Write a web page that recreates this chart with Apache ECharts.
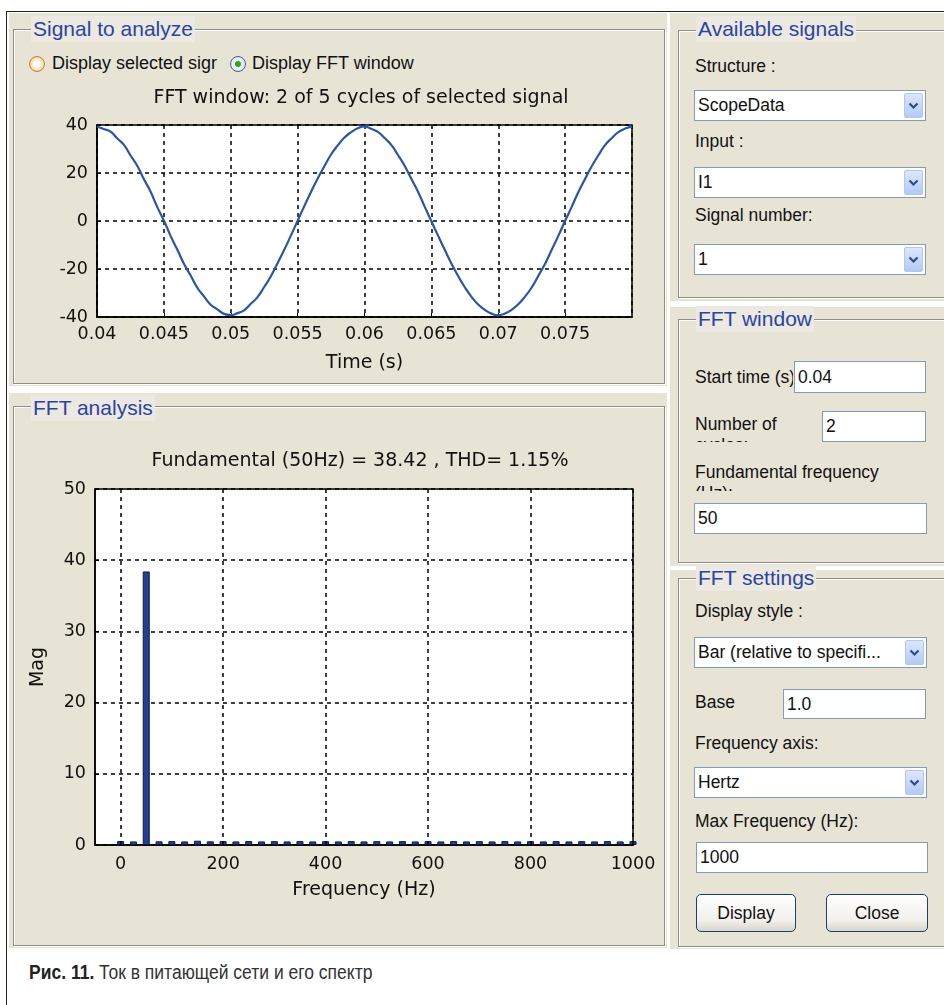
<!DOCTYPE html>
<html><head><meta charset="utf-8">
<script src="https://cdn.jsdelivr.net/npm/echarts@6/dist/echarts.min.js"></script>
<style>
body{margin:0;width:944px;height:1005px;overflow:hidden;background:#fff;position:relative;font-family:"Liberation Sans",Arial,sans-serif;}
.bg{position:absolute;background:#E7E4D6;}
.frame{position:absolute;border:1px solid #8E8D88;box-shadow:1px 1px 0 #fff, inset 1px 1px 0 #fff;}
.ptitle{position:absolute;color:#2C45A0;font-size:21px;background:#EBE9E1;padding:0 2px;line-height:26px;white-space:nowrap;}
.lbl{position:absolute;font-size:17.5px;color:#111;white-space:nowrap;line-height:21px;}
.wrap{position:absolute;font-size:17.5px;color:#111;line-height:21px;overflow:hidden;}
.combo{position:absolute;background:#fff;border:1px solid #7F9DB9;box-sizing:border-box;font-size:17.5px;color:#111;padding-left:3px;white-space:nowrap;}
.arrow{position:absolute;right:2px;top:2px;bottom:2px;width:19px;background:linear-gradient(#DCE7FD,#B4C9F6);border:1px solid #B2C6EE;border-radius:2px;box-sizing:border-box;display:flex;align-items:center;justify-content:center;}
.edit{position:absolute;background:#fff;border:1px solid #7F9DB9;box-sizing:border-box;font-size:17.5px;color:#111;padding-left:3px;white-space:nowrap;}
.btn{position:absolute;border:1px solid #1E3F6E;border-radius:5px;box-sizing:border-box;background:linear-gradient(#FFFFFF,#F1F0EB 70%,#D9D5CA);font-size:17.5px;color:#111;text-align:center;}
#chart{position:absolute;left:0;top:0;width:944px;height:1005px;}
</style>
</head><body>
<div style="position:absolute;left:6px;top:11px;width:960px;height:1010px;border-top:1px solid #222;border-left:1px solid #222;"></div>

<div class="bg" style="left:9px;top:13px;width:658px;height:373px;"></div>
<div class="frame" style="left:13px;top:29px;width:650px;height:353px;"></div>
<div class="ptitle" style="left:31px;top:16px;">Signal to analyze</div>

<div class="bg" style="left:9px;top:393px;width:658px;height:555px;"></div>
<div class="frame" style="left:13px;top:406px;width:650px;height:538px;"></div>
<div class="ptitle" style="left:31px;top:395px;">FFT analysis</div>

<div class="bg" style="left:670px;top:13px;width:274px;height:288px;"></div>
<div class="frame" style="left:678px;top:30px;width:300px;height:266px;"></div>
<div class="ptitle" style="left:696px;top:16px;">Available signals</div>

<div class="bg" style="left:670px;top:307px;width:274px;height:259px;"></div>
<div class="frame" style="left:678px;top:319px;width:300px;height:242px;"></div>
<div class="ptitle" style="left:696px;top:306px;">FFT window</div>

<div class="bg" style="left:670px;top:570px;width:274px;height:379px;"></div>
<div class="frame" style="left:678px;top:578px;width:300px;height:367px;"></div>
<div class="ptitle" style="left:696px;top:565px;">FFT settings</div>

<!-- radio buttons -->
<div style="position:absolute;left:29px;top:56px;width:16px;height:16px;border-radius:50%;box-sizing:border-box;border:1px solid #B98636;background:radial-gradient(circle,#FFFFFF 25%,#F9DFA8 60%,#E9B45A 100%);"></div>
<div class="lbl" style="left:52px;top:53px;font-size:18px;">Display selected sigr</div>
<div style="position:absolute;left:230px;top:56px;width:16px;height:16px;border-radius:50%;box-sizing:border-box;border:1px solid #2F6A9E;background:radial-gradient(circle,#F4F4F0 40%,#D6D8D0 100%);display:flex;align-items:center;justify-content:center;"><div style="width:6px;height:6px;border-radius:50%;background:#2FA42F;"></div></div>
<div class="lbl" style="left:252px;top:53px;font-size:18px;">Display FFT window</div>

<!-- Available signals -->
<div class="lbl" style="left:695px;top:56px;">Structure :</div>
<div class="combo" style="left:694px;top:90px;width:232px;height:31px;line-height:29px;">ScopeData<div class="arrow"><svg width="11" height="8"><polyline points="1.5,1.5 5.5,5.5 9.5,1.5" fill="none" stroke="#2E4B8A" stroke-width="2.2"/></svg></div></div>
<div class="lbl" style="left:695px;top:131px;">Input :</div>
<div class="combo" style="left:694px;top:167px;width:232px;height:31px;line-height:29px;">I1<div class="arrow"><svg width="11" height="8"><polyline points="1.5,1.5 5.5,5.5 9.5,1.5" fill="none" stroke="#2E4B8A" stroke-width="2.2"/></svg></div></div>
<div class="lbl" style="left:695px;top:205px;">Signal number:</div>
<div class="combo" style="left:694px;top:244px;width:232px;height:31px;line-height:29px;">1<div class="arrow"><svg width="11" height="8"><polyline points="1.5,1.5 5.5,5.5 9.5,1.5" fill="none" stroke="#2E4B8A" stroke-width="2.2"/></svg></div></div>

<!-- FFT window -->
<div class="wrap" style="left:695px;top:367px;width:98px;height:21px;white-space:nowrap;">Start time (s)</div>
<div class="edit" style="left:794px;top:361px;width:132px;height:32px;line-height:30px;">0.04</div>
<div class="wrap" style="left:695px;top:414px;width:100px;height:28px;">Number of cycles:</div>
<div class="edit" style="left:822px;top:411px;width:104px;height:31px;line-height:29px;">2</div>
<div class="wrap" style="left:695px;top:462px;width:200px;height:29px;">Fundamental frequency (Hz):</div>
<div class="edit" style="left:694px;top:503px;width:233px;height:31px;line-height:29px;">50</div>

<!-- FFT settings -->
<div class="lbl" style="left:695px;top:601px;">Display style :</div>
<div class="combo" style="left:694px;top:637px;width:233px;height:31px;line-height:29px;">Bar (relative to specifi...<div class="arrow"><svg width="11" height="8"><polyline points="1.5,1.5 5.5,5.5 9.5,1.5" fill="none" stroke="#2E4B8A" stroke-width="2.2"/></svg></div></div>
<div class="lbl" style="left:695px;top:692px;">Base</div>
<div class="edit" style="left:783px;top:689px;width:143px;height:30px;line-height:28px;">1.0</div>
<div class="lbl" style="left:695px;top:733px;">Frequency axis:</div>
<div class="combo" style="left:694px;top:767px;width:233px;height:31px;line-height:29px;">Hertz<div class="arrow"><svg width="11" height="8"><polyline points="1.5,1.5 5.5,5.5 9.5,1.5" fill="none" stroke="#2E4B8A" stroke-width="2.2"/></svg></div></div>
<div class="lbl" style="left:695px;top:811px;">Max Frequency (Hz):</div>
<div class="edit" style="left:696px;top:842px;width:232px;height:31px;line-height:29px;">1000</div>
<div class="btn" style="left:696px;top:894px;width:100px;height:38px;line-height:36px;">Display</div>
<div class="btn" style="left:826px;top:894px;width:102px;height:38px;line-height:36px;">Close</div>

<!-- caption -->
<div style="position:absolute;left:29px;top:960px;font-family:'Liberation Sans',Arial,sans-serif;font-size:20px;line-height:24px;color:#333;white-space:nowrap;transform:scaleX(0.875);transform-origin:0 50%;"><b style="color:#222;">Рис. 11.</b> Ток в питающей сети и его спектр</div>

<div id="chart"></div>
<script>
// ---- Signal plot data ----
const sampleTimes = [0.04,0.0405,0.041,0.0415,0.042,0.0425,0.043,0.0435,0.044,0.0445,
 0.045,0.0455,0.046,0.0465,0.047,0.0475,0.048,0.0485,0.049,0.0495,
 0.05,0.0505,0.051,0.0515,0.052,0.0525,0.053,0.0535,0.054,0.0545,
 0.055,0.0555,0.056,0.0565,0.057,0.0575,0.058,0.0585,0.059,0.0595,
 0.06,0.0605,0.061,0.0615,0.062,0.0625,0.063,0.0635,0.064,0.0645,
 0.065,0.0655,0.066,0.0665,0.067,0.0675,0.068,0.0685,0.069,0.0695,
 0.07,0.0705,0.071,0.0715,0.072,0.0725,0.073,0.0735,0.074,0.0745,
 0.075,0.0755,0.076,0.0765,0.077,0.0775,0.078,0.0785,0.079,0.0795,0.08];
const currentValues = [39.4,38.3,37.3,34.5,31.8,27.4,23.1,17.5,12.3,5.9,
 0.2,-6.2,-11.9,-17.8,-22.7,-27.8,-31.4,-34.9,-36.8,-38.7,
 -39.2,-38.4,-37.2,-34.5,-31.7,-27.5,-23.0,-17.6,-12.0,-6.0,
 0.1,6.2,12.1,17.7,22.8,27.7,31.5,34.8,37.0,38.6,
 39.4,38.4,37.1,34.6,31.7,27.5,23.0,17.6,12.2,6.0,
 -0.1,-6.1,-12.0,-17.7,-22.9,-27.6,-31.6,-34.8,-37.0,-38.6,
 -39.3,-38.5,-37.0,-34.7,-31.5,-27.7,-22.8,-17.8,-12.0,-6.1,
 0.1,6.0,12.2,17.6,22.9,27.5,31.7,34.6,37.1,38.5,39.3];

// ---- FFT plot data ----
const fftFreqs = [0,25,50,75,100,125,150,175,200,225,250,275,300,325,350,375,400,425,450,475,
 500,525,550,575,600,625,650,675,700,725,750,775,800,825,850,875,900,925,950,975,1000];
const fftMags = [0.55,0.5,38.42,0.52,0.55,0.5,0.6,0.52,0.55,0.5,0.56,0.5,0.54,0.5,0.55,0.5,0.54,0.5,0.55,0.5,
 0.54,0.5,0.55,0.5,0.54,0.5,0.55,0.5,0.54,0.5,0.55,0.5,0.54,0.5,0.55,0.5,0.54,0.5,0.55,0.5,0.54];
const freqTicks = [0,200,400,600,800,1000];

const signalTitle = 'FFT window: 2 of 5 cycles of selected signal';
const fftTitle = 'Fundamental (50Hz) = 38.42 , THD= 1.15%';

const plotFont = 'DejaVu Sans';
const gridLine = {show:true, lineStyle:{color:'#000', type:[4,4], width:1.5}};
const tickLabel = {color:'#111', fontFamily:plotFont, fontSize:17.5};
const axisLineStyle = {show:true, onZero:false, lineStyle:{color:'#000', width:1.5}};

const chart = echarts.init(document.getElementById('chart'));
chart.setOption({
  animation:false,
  backgroundColor:'transparent',
  title:[
    {text:signalTitle, left:361, top:89, textAlign:'center', padding:0,
     textStyle:{fontFamily:plotFont, fontSize:19, fontWeight:'normal', color:'#111'}},
    {text:fftTitle, left:360, top:452, textAlign:'center', padding:0,
     textStyle:{fontFamily:plotFont, fontSize:19, fontWeight:'normal', color:'#111'}}
  ],
  grid:[
    {left:97, top:125, width:535, height:192, show:true, backgroundColor:'#fff', borderColor:'#000', borderWidth:1.5},
    {left:95, top:489, width:538, height:356, show:true, backgroundColor:'#fff', borderColor:'#000', borderWidth:1.5}
  ],
  xAxis:[
    {gridIndex:0, type:'value', min:0.04, max:0.08, interval:0.005,
     axisLine:axisLineStyle,
     axisTick:{show:true, inside:true, length:4, lineStyle:{color:'#000'}},
     axisLabel:Object.assign({margin:8, showMaxLabel:false,
       formatter:v => v > 0.0799 ? '' : String(+v.toFixed(3))}, tickLabel),
     splitLine:gridLine,
     name:'Time (s)', nameLocation:'middle', nameGap:37,
     nameTextStyle:{fontFamily:plotFont, fontSize:19, color:'#111'}},
    {gridIndex:1, type:'value', min:-50, max:1000,
     axisLine:axisLineStyle,
     axisTick:{show:true, inside:true, length:4, customValues:freqTicks, lineStyle:{color:'#000'}},
     axisLabel:Object.assign({margin:10, customValues:freqTicks, formatter:v => String(v)}, tickLabel),
     splitLine:{show:false},
     name:'Frequency (Hz)', nameLocation:'middle', nameGap:36,
     nameTextStyle:{fontFamily:plotFont, fontSize:19, color:'#111'}}
  ],
  yAxis:[
    {gridIndex:0, type:'value', min:-40, max:40, interval:20,
     axisLine:axisLineStyle,
     axisTick:{show:true, inside:true, length:4, lineStyle:{color:'#000'}},
     axisLabel:Object.assign({margin:9}, tickLabel),
     splitLine:gridLine},
    {gridIndex:1, type:'value', min:0, max:50, interval:10,
     axisLine:axisLineStyle,
     axisTick:{show:true, inside:true, length:4, lineStyle:{color:'#000'}},
     axisLabel:Object.assign({margin:9}, tickLabel),
     splitLine:gridLine,
     name:'Mag', nameLocation:'middle', nameGap:47,
     nameTextStyle:{fontFamily:plotFont, fontSize:19, color:'#111'}}
  ],
  series:[
    {type:'line', xAxisIndex:0, yAxisIndex:0, smooth:true, symbol:'none',
     lineStyle:{color:'#2957A4', width:2.2},
     data:sampleTimes.map((t,i) => [t, currentValues[i]])},
    {type:'bar', xAxisIndex:1, yAxisIndex:1, barWidth:7,
     itemStyle:{color:'#243F8E', borderColor:'#0B1A4A', borderWidth:1},
     data:fftFreqs.map((f,i) => [f, fftMags[i]]),
     markLine:{silent:true, symbol:['none','none'], label:{show:false},
       lineStyle:{color:'#000', type:[4,4], width:1.5},
       data:freqTicks.map(v => ({xAxis:v}))}}
  ]
});
</script>
</body></html>
